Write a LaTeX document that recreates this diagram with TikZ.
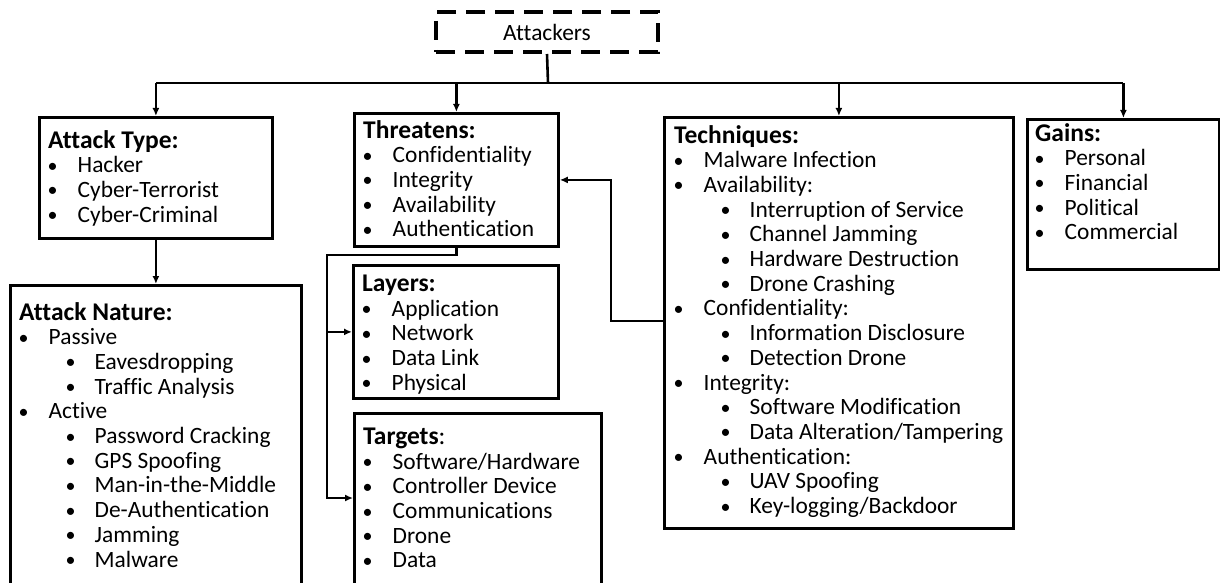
\documentclass[tikz,border=0pt]{standalone}
\usepackage{fontspec}
\setmainfont{Carlito}[Ligatures=NoCommon]
\usetikzlibrary{arrows.meta}
\newcommand\bdot{\raisebox{0.5pt}{\fontsize{20}{20}\selectfont •}}
\newcommand\bulA[1]{\strut\makebox[29.5pt][l]{\hspace*{-0.5pt}\bdot}#1}
\newcommand\bulB[1]{\strut\hspace*{46.5pt}\makebox[29pt][l]{\bdot}#1}
\newcommand\ttl[1]{\strut{\fontsize{25.5}{24.7}\selectfont\textbf{#1}}}
\tikzset{
  box/.style={draw, line width=2.8pt, rectangle, inner sep=0pt, anchor=north west},
  dbox/.style={draw, line width=4pt, dash pattern=on 19pt off 10pt, rectangle, inner sep=0pt},
  txt/.style={anchor=north west, inner sep=0pt, align=left, font=\fontsize{23.4}{24.7}\selectfont},
  conn/.style={line width=2.6pt},
  arr/.style={line width=2.6pt, -{Latex[length=8pt,width=7pt]}},
}
\begin{document}
\begin{tikzpicture}[x=1pt,y=-1pt]
\useasboundingbox (0,0) rectangle (1220,583);
\clip (0,0) rectangle (1220,583);
\fill[white] (0,0) rectangle (1220,583);
% boxes
\node[dbox, minimum width=222pt, minimum height=40pt, font=\fontsize{23.4}{24.7}\selectfont] (attackers) at (547,32) {Attackers};
\node[box, minimum width=233pt, minimum height=121pt] (atype) at (38,116) {};
\node[box, minimum width=291pt, minimum height=320pt] (anature) at (9,284) {};
\node[box, minimum width=204pt, minimum height=133pt] (threat) at (353,112) {};
\node[box, minimum width=205pt, minimum height=133pt] (layers) at (352,264) {};
\node[box, minimum width=247pt, minimum height=190pt] (targets) at (353,412) {};
\node[box, minimum width=349pt, minimum height=411pt] (tech) at (663,116) {};
\node[box, minimum width=192pt, minimum height=150pt] (gains) at (1026,118) {};
% texts
\node[txt] (atypeT) at (48,130) {\ttl{Attack Type:}\\ \bulA{Hacker}\\ \bulA{Cyber-Terrorist}\\ \bulA{Cyber-Criminal}};
\node[txt] (anatureT) at (19,302) {\ttl{Attack Nature:}\\ \bulA{Passive}\\ \bulB{Eavesdropping}\\ \bulB{Traffic Analysis}\\ \bulA{Active}\\ \bulB{Password Cracking}\\ \bulB{GPS Spoofing}\\ \bulB{Man-in-the-Middle}\\ \bulB{De-Authentication}\\ \bulB{Jamming}\\ \bulB{Malware}};
\node[txt] (threatT) at (363,120) {\ttl{Threatens:}\\ \bulA{Confidentiality}\\ \bulA{Integrity}\\ \bulA{Availability}\\ \bulA{Authentication}};
\node[txt] (layersT) at (362,274) {\ttl{Layers:}\\ \bulA{Application}\\ \bulA{Network}\\ \bulA{Data Link}\\ \bulA{Physical}};
\node[txt] (targetsT) at (363,427) {\strut{\fontsize{25.5}{24.7}\selectfont\textbf{Targets}:}\\ \bulA{Software/Hardware}\\ \bulA{Controller Device}\\ \bulA{Communications}\\ \bulA{Drone}\\ \bulA{Data}};
\node[txt] (techT) at (674,125) {\ttl{Techniques:}\\ \bulA{Malware Infection}\\ \bulA{Availability:}\\ \bulB{Interruption of Service}\\ \bulB{Channel Jamming}\\ \bulB{Hardware Destruction}\\ \bulB{Drone Crashing}\\ \bulA{Confidentiality:}\\ \bulB{Information Disclosure}\\ \bulB{Detection Drone}\\ \bulA{Integrity:}\\ \bulB{Software Modification}\\ \bulB{Data Alteration/Tampering}\\ \bulA{Authentication:}\\ \bulB{UAV Spoofing}\\ \bulB{Key-logging/Backdoor}};
\node[txt] (gainsT) at (1035,123) {\ttl{Gains:}\\ \bulA{Personal}\\ \bulA{Financial}\\ \bulA{Political}\\ \bulA{Commercial}};
% connectors
\coordinate (bus) at (548,83);
\draw[conn] (attackers.south) -- (bus);
\draw[conn] (atype.north |- bus) -- (gains.north |- bus);
\draw[arr] (atype.north |- bus) -- (atype.north);
\draw[arr] (threat.north |- bus) -- (threat.north);
\draw[arr] (tech.north |- bus) -- (tech.north);
\draw[arr] (gains.north |- bus) -- (gains.north);
\draw[arr] (atype.south) -- (atype.south |- anature.north);
\coordinate (tl) at (327,255);
\coordinate (tbend) at (327,498);
\draw[arr] (threat.south) |- (tl) -- (tbend) -- (tbend -| targets.west);
\draw[arr] (layers.west -| tl) -- (layers.west);
\coordinate (tc) at (611,321);
\draw[arr] (tech.west |- tc) -- (tc) |- (threat.east);
\end{tikzpicture}
\end{document}
